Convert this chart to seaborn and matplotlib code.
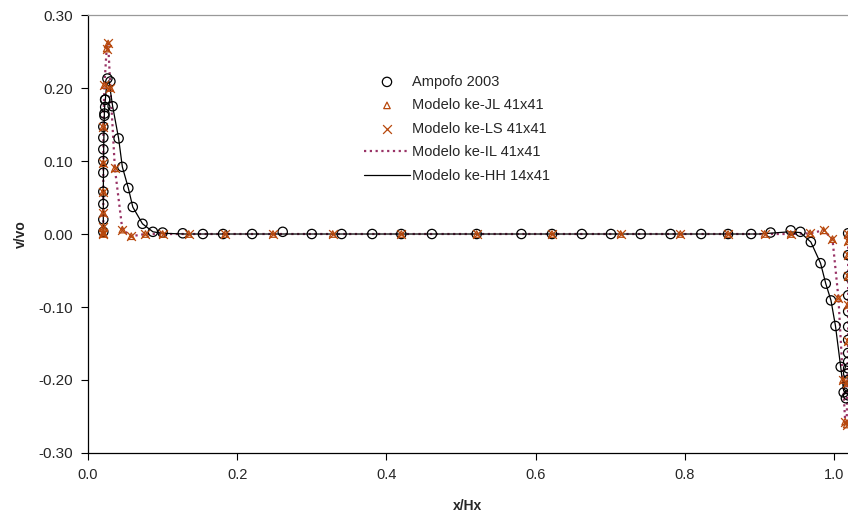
import matplotlib
matplotlib.use("Agg")
import matplotlib.pyplot as plt
import seaborn as sns

### Ampofo 2003 (experimental points, circles)
ampofo_x = [0.0205, 0.0205, 0.0205, 0.0205, 0.0205, 0.0205, 0.0205, 0.0205, 0.0205,
            0.022, 0.022, 0.023, 0.023, 0.023, 0.026, 0.030, 0.033, 0.041, 0.046,
            0.054, 0.060, 0.073, 0.087, 0.100, 0.127, 0.154, 0.181, 0.220, 0.261,
            0.300, 0.340, 0.381, 0.420, 0.461, 0.521, 0.581, 0.622, 0.662, 0.701,
            0.741, 0.781, 0.822, 0.858, 0.889, 0.915, 0.942, 0.955, 0.969, 0.982,
            0.989, 0.996, 1.002, 1.009, 1.013, 1.016,
            1.019, 1.019, 1.019, 1.019, 1.019, 1.019, 1.019, 1.019, 1.019, 1.019,
            1.019, 1.019, 1.019, 1.019]
ampofo_y = [0.003, 0.020, 0.041, 0.058, 0.084, 0.100, 0.116, 0.132, 0.147,
            0.162, 0.165, 0.174, 0.184, 0.184, 0.213, 0.209, 0.175, 0.131, 0.092,
            0.063, 0.037, 0.014, 0.003, 0.002, 0.001, 0.000, 0.000, 0.000, 0.003,
            0.000, 0.000, 0.000, 0.000, 0.000, 0.000, 0.000, 0.000, 0.000, 0.000,
            0.000, 0.000, 0.000, 0.000, 0.000, 0.002, 0.005, 0.003, -0.011, -0.040,
            -0.068, -0.091, -0.126, -0.182, -0.217, -0.225,
            0.001, -0.029, -0.058, -0.084, -0.106, -0.127, -0.145, -0.163, -0.175,
            -0.184, -0.191, -0.200, -0.209, -0.221]

### numerical models on the 41x41 grid
model_x = [0.0205, 0.0205, 0.0205, 0.0205, 0.0205, 0.0205, 0.0205,
           0.022, 0.025, 0.027, 0.030, 0.036, 0.046, 0.058, 0.077, 0.100,
           0.135, 0.184, 0.248, 0.328, 0.420, 0.521, 0.622, 0.714, 0.794,
           0.858, 0.907, 0.942, 0.968, 0.986, 0.998, 1.006, 1.012, 1.015,
           1.017, 1.018, 1.019, 1.019, 1.019, 1.019, 1.019, 1.019]
jl_y = [0.000, 0.002, 0.010, 0.029, 0.058, 0.097, 0.147,
        0.204, 0.254, 0.261, 0.200, 0.090, 0.006, -0.003, 0.000, 0.000,
        0.000, 0.000, 0.000, 0.000, 0.000, 0.000, 0.000, 0.000, 0.000,
        0.000, 0.000, 0.000, 0.001, 0.005, -0.007, -0.088, -0.200, -0.257,
        -0.261, -0.204, -0.147, -0.097, -0.058, -0.029, -0.010, 0.000]
ls_y = [0.000, 0.002, 0.010, 0.029, 0.058, 0.097, 0.147,
        0.204, 0.254, 0.261, 0.200, 0.090, 0.006, -0.003, 0.000, 0.000,
        0.000, 0.000, 0.000, 0.000, 0.000, 0.000, 0.000, 0.000, 0.000,
        0.000, 0.000, 0.000, 0.001, 0.005, -0.007, -0.088, -0.200, -0.257,
        -0.261, -0.204, -0.147, -0.097, -0.058, -0.029, -0.010, 0.000]
il_y = [0.000, 0.002, 0.010, 0.029, 0.058, 0.097, 0.147,
        0.204, 0.254, 0.261, 0.200, 0.090, 0.006, -0.003, 0.000, 0.000,
        0.000, 0.000, 0.000, 0.000, 0.000, 0.000, 0.000, 0.000, 0.000,
        0.000, 0.000, 0.000, 0.001, 0.005, -0.007, -0.088, -0.200, -0.257,
        -0.261, -0.204, -0.147, -0.097, -0.058, -0.029, -0.010, 0.000]

### ke-HH 14x41 (solid line)
hh_x = [0.0205, 0.0205, 0.021, 0.022, 0.025, 0.028, 0.033, 0.041, 0.046, 0.054,
        0.060, 0.073, 0.087, 0.100, 0.130, 0.200, 0.300, 0.400, 0.500, 0.600,
        0.700, 0.800, 0.900, 0.940, 0.955, 0.969, 0.982, 0.989, 0.996, 1.002,
        1.009, 1.013, 1.019]
hh_y = [0.000, 0.060, 0.120, 0.170, 0.205, 0.210, 0.175, 0.131, 0.092, 0.063,
        0.037, 0.014, 0.003, 0.001, 0.000, 0.000, 0.000, 0.000, 0.000, 0.000,
        0.000, 0.000, 0.000, 0.003, 0.002, -0.011, -0.040, -0.068, -0.091, -0.126,
        -0.182, -0.215, -0.220]

x_ticks = [0.0, 0.2, 0.4, 0.6, 0.8, 1.0]
y_ticks = [-0.30, -0.20, -0.10, 0.00, 0.10, 0.20, 0.30]

sns.set_theme(style="white")
plt.rcParams['font.family'] = ['Liberation Sans', 'DejaVu Sans']

orange = '#B8480C'

fig = plt.figure(figsize=(8.48, 5.18), dpi=100)
ax = fig.add_axes([0.1038, 0.1255, 1.0 - 0.1038, 0.971 - 0.1255])

sns.lineplot(x=hh_x, y=hh_y, sort=False, estimator=None, color='black',
             linewidth=0.9, label='Modelo ke-HH 14x41', ax=ax, zorder=3)
sns.lineplot(x=model_x, y=il_y, sort=False, estimator=None, color='#993366',
             linewidth=1.6, linestyle=(0, (1, 1.6)), label='Modelo ke-IL 41x41',
             ax=ax, zorder=2)
sns.scatterplot(x=ampofo_x, y=ampofo_y, marker='o', s=45, facecolors='none',
                edgecolors='black', linewidth=0.9, label='Ampofo 2003', ax=ax, zorder=4)
sns.scatterplot(x=model_x, y=jl_y, marker='^', s=22, facecolors='none',
                edgecolors=orange, linewidth=0.9, label='Modelo ke-JL 41x41', ax=ax, zorder=5)
sns.scatterplot(x=model_x, y=ls_y, marker='x', s=40, color=orange,
                linewidth=0.9, label='Modelo ke-LS 41x41', ax=ax, zorder=6)

ax.set_xlim(0.0, 1.0188)
ax.set_ylim(-0.30, 0.30)
ax.set_xticks(x_ticks)
ax.set_xticklabels([f"{t:.1f}" for t in x_ticks])
ax.set_yticks(y_ticks)
ax.set_yticklabels([f"{t:.2f}" for t in y_ticks])
ax.tick_params(axis='both', direction='out', length=5, width=0.8, color='black',
               pad=6, left=True, bottom=True)
ax.tick_params(axis='x', labelsize=10.5)
ax.tick_params(axis='y', labelsize=11)
ax.set_xlabel('x/Hx', fontsize=10, fontweight='bold', labelpad=12)
ax.set_ylabel('v/vo', fontsize=10, fontweight='bold', labelpad=7)

for side in ['left', 'bottom']:
    ax.spines[side].set_color('black')
    ax.spines[side].set_linewidth(0.9)
ax.spines['top'].set_color('#999999')
ax.spines['top'].set_linewidth(0.9)
ax.spines['right'].set_visible(False)

handles, labels = ax.get_legend_handles_labels()
order = ['Ampofo 2003', 'Modelo ke-JL 41x41', 'Modelo ke-LS 41x41',
         'Modelo ke-IL 41x41', 'Modelo ke-HH 14x41']
hmap = dict(zip(labels, handles))
ax.legend([hmap[k] for k in order], order, loc='upper left',
          bbox_to_anchor=(0.355, 0.877), frameon=False, fontsize=10.5,
          handlelength=3.2, handletextpad=0.1, labelspacing=0.65,
          borderaxespad=0)

fig.savefig('out.png', dpi=100)
